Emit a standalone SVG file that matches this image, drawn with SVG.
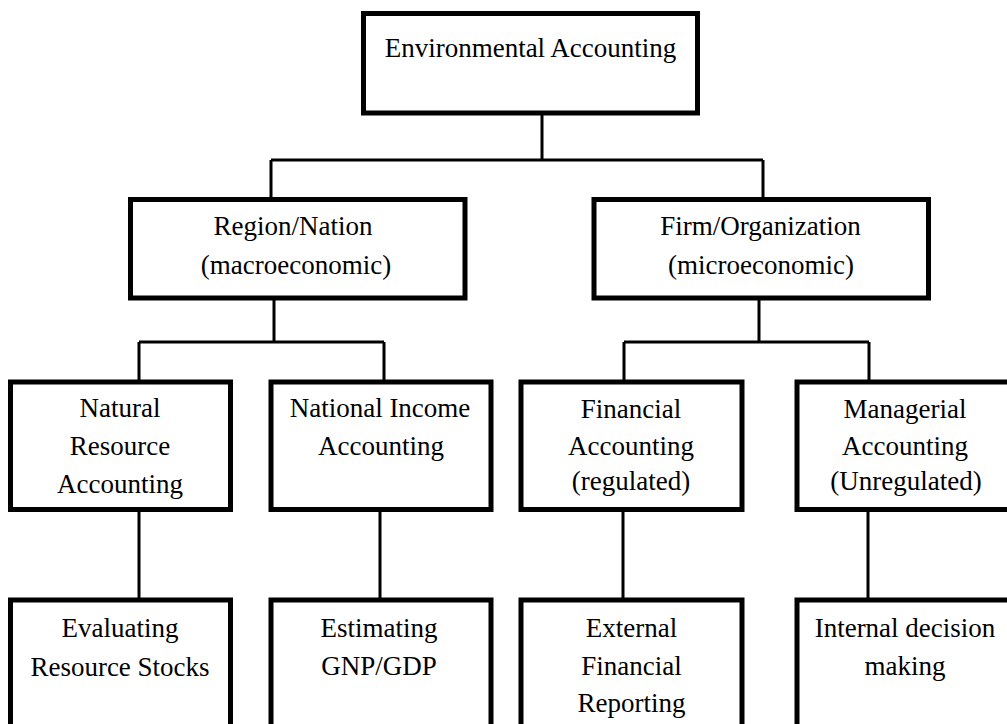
<svg xmlns="http://www.w3.org/2000/svg" width="1007" height="724" viewBox="0 0 1007 724">
<style>
.box{fill:#fff;stroke:#000;stroke-width:5}
.ln{fill:none;stroke:#000;stroke-width:3}
text{font-family:"Liberation Serif","Times New Roman",serif;font-size:27px;fill:#000;text-anchor:middle}
</style>
<defs>
<clipPath id="clipNR"><rect x="13" y="384.5" width="215" height="122.5"/></clipPath>
</defs>
<rect width="1007" height="724" fill="#fff"/>
<g id="connectors">
<path class="ln" d="M542 115V160M271 160H763M271 160V198M763 160V198"/>
<path class="ln" d="M274 300V342M139 342H384M139 342V381M384 342V381"/>
<path class="ln" d="M759 300V342M624 342H869M624 342V381M869 342V381"/>
<path class="ln" d="M139 511V599M380 511V599M623 511V599M868 511V599"/>
</g>
<g id="n-env">
<rect class="box" x="363.5" y="13.5" width="334" height="99.5"/>
<text x="530.5" y="57">Environmental Accounting</text>
</g>
<g id="n-region">
<rect class="box" x="130.5" y="199.5" width="334.5" height="98.5"/>
<text x="293" y="235">Region/Nation</text>
<text x="296" y="274">(macroeconomic)</text>
</g>
<g id="n-firm">
<rect class="box" x="594" y="199.5" width="334.5" height="98.5"/>
<text x="760.5" y="235">Firm/Organization</text>
<text x="761" y="274">(microeconomic)</text>
</g>
<g id="n-natural">
<rect class="box" x="10.5" y="382" width="220" height="127.5"/>
<g clip-path="url(#clipNR)">
<text x="120" y="417">Natural</text>
<text x="120" y="455">Resource</text>
<text x="120" y="493">Accounting</text>
</g>
</g>
<g id="n-national">
<rect class="box" x="271" y="382" width="220" height="127.5"/>
<text x="380" y="417">National Income</text>
<text x="381" y="455">Accounting</text>
</g>
<g id="n-financial">
<rect class="box" x="521" y="382" width="221" height="127.5"/>
<text x="631" y="418">Financial</text>
<text x="631" y="455">Accounting</text>
<text x="631" y="490">(regulated)</text>
</g>
<g id="n-managerial">
<rect class="box" x="797" y="382" width="216" height="127.5"/>
<text x="905" y="418">Managerial</text>
<text x="905" y="455">Accounting</text>
<text x="906" y="490">(Unregulated)</text>
</g>
<g id="n-evaluating">
<rect class="box" x="10.5" y="600" width="220" height="140"/>
<text x="120" y="637">Evaluating</text>
<text x="120" y="676">Resource Stocks</text>
</g>
<g id="n-estimating">
<rect class="box" x="271" y="600" width="220" height="140"/>
<text x="379" y="637">Estimating</text>
<text x="379" y="675">GNP/GDP</text>
</g>
<g id="n-external">
<rect class="box" x="521" y="600" width="221" height="140"/>
<text x="631.5" y="637">External</text>
<text x="631.5" y="675">Financial</text>
<text x="631.5" y="712">Reporting</text>
</g>
<g id="n-internal">
<rect class="box" x="797" y="600" width="216" height="140"/>
<text x="905" y="637">Internal decision</text>
<text x="905" y="675">making</text>
</g>
</svg>
